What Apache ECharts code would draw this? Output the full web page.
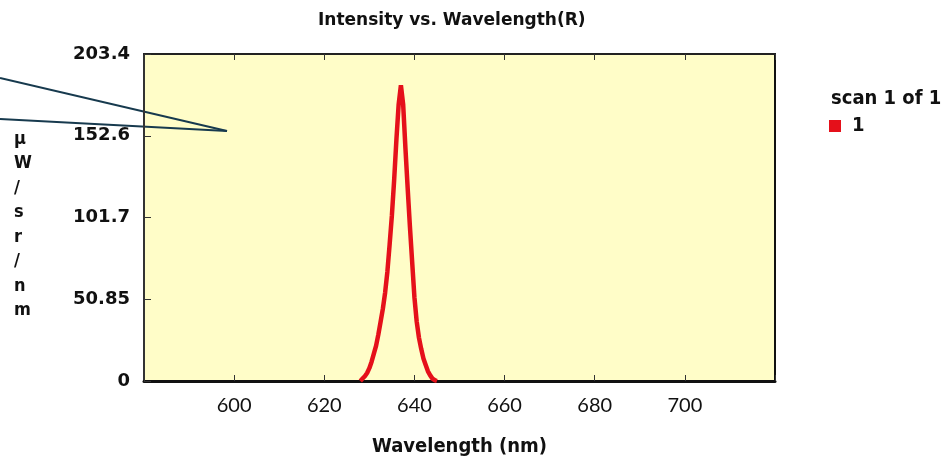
<!DOCTYPE html>
<html><head><meta charset="utf-8">
<script src="https://cdn.jsdelivr.net/npm/echarts@6/dist/echarts.min.js"></script>
<style>html,body{margin:0;padding:0;background:#fff}#c{width:942px;height:462px}</style>
</head><body><div id="c"></div>
<script>
const wavelengths = [628,628.5,629,629.5,630,630.5,631,631.5,632,632.5,633,633.5,634,634.5,635,635.5,636,636.5,637,637.5,638,638.5,639,639.5,640,640.5,641,641.5,642,642.5,643,643.5,644,644.5,645];
const intensity =   [0,1.5,3,5,8,12,17,22,29,37,45,55,68,85,103,125,150,172,184,172,145,120,96,74,52,37,27,20,14,10,6,3.5,1.5,0.5,0];
const yTicks = [0, 50.85, 101.7, 152.6, 203.4];
const xTicks = [600, 620, 640, 660, 680, 700];
const seriesName = '1';
const COND = '"DejaVu Sans Condensed","DejaVu Sans",sans-serif';
const BOLD = '"DejaVu Sans",sans-serif';
const LATO = 'Lato,"DejaVu Sans",sans-serif';

const chart = echarts.init(document.getElementById('c'));
chart.setOption({
  animation: false,
  backgroundColor: '#ffffff',
  title: [
    { text: 'Intensity vs. Wavelength(R)', left: 313, top: 7,
      textStyle: { fontFamily: BOLD, fontSize: 17, fontWeight: 'bold', color: '#111' } },
    { text: 'scan 1 of 1', left: 826, top: 84,
      textStyle: { fontFamily: COND, fontSize: 20, fontWeight: 'bold', color: '#111' } }
  ],
  legend: {
    data: [seriesName], left: 824, top: 111, icon: 'rect', itemWidth: 12, itemHeight: 12,
    itemGap: 6,
    textStyle: { fontFamily: COND, fontSize: 20, fontWeight: 'bold', color: '#111', padding: [0,0,0,6] }
  },
  grid: { left: 144, right: 167, top: 54, bottom: 77, show: true, backgroundColor: '#fffdc8', borderColor: '#111', borderWidth: 2 },
  xAxis: [{
    type: 'value', min: 580, max: 720, interval: 20,
    name: 'Wavelength (nm)', nameLocation: 'middle', nameGap: 56,
    nameTextStyle: { fontFamily: COND, fontSize: 20, fontWeight: 'bold', color: '#111' },
    axisLine: { show: true, lineStyle: { color: '#111', width: 3 } },
    axisTick: { show: true, inside: true, length: 6, lineStyle: { color: '#333', width: 1 } },
    splitLine: { show: false },
    axisLabel: { fontFamily: LATO, fontSize: 20, color: '#111', margin: 15,
      formatter: v => xTicks.includes(v) ? String(v) : '' }
  }, {
    type: 'value', position: 'top', min: 580, max: 720, interval: 20,
    axisLine: { show: true, lineStyle: { color: '#222', width: 2 } },
    axisTick: { show: true, inside: true, length: 6, lineStyle: { color: '#333' } },
    axisLabel: { show: false }, splitLine: { show: false }
  }],
  yAxis: {
    type: 'value', min: 0, max: 203.4, interval: 50.85,
    axisLine: { show: true, lineStyle: { color: '#333', width: 2 } },
    axisTick: { show: true, inside: true, length: 7, lineStyle: { color: '#333' } },
    splitLine: { show: false },
    axisLabel: { fontFamily: BOLD, fontSize: 18, fontWeight: 'bold', color: '#111', margin: 14,
      formatter: v => { const t = yTicks.find(x => Math.abs(x - v) < 0.05); return t === undefined ? '' : String(t); } }
  },
  graphic: [
    { type: 'text', left: 14, top: 127, style: { text: 'µ\nW\n/\ns\nr\n/\nn\nm', fontFamily: COND, fontSize: 18, fontWeight: 'bold', lineHeight: 24.5, fill: '#111' } },
    { type: 'line', shape: { x1: 0, y1: 78, x2: 227, y2: 131 }, style: { stroke: '#173a4e', lineWidth: 2 } },
    { type: 'line', shape: { x1: 0, y1: 119, x2: 227, y2: 131 }, style: { stroke: '#173a4e', lineWidth: 2 } }
  ],
  series: [{
    name: seriesName, type: 'line', showSymbol: false, symbol: 'rect',
    itemStyle: { color: '#e5101a', borderColor: '#e5101a' },
    lineStyle: { color: '#e5101a', width: 4.5 },
    data: wavelengths.map((w, i) => [w, intensity[i]])
  }]
});
</script></body></html>
